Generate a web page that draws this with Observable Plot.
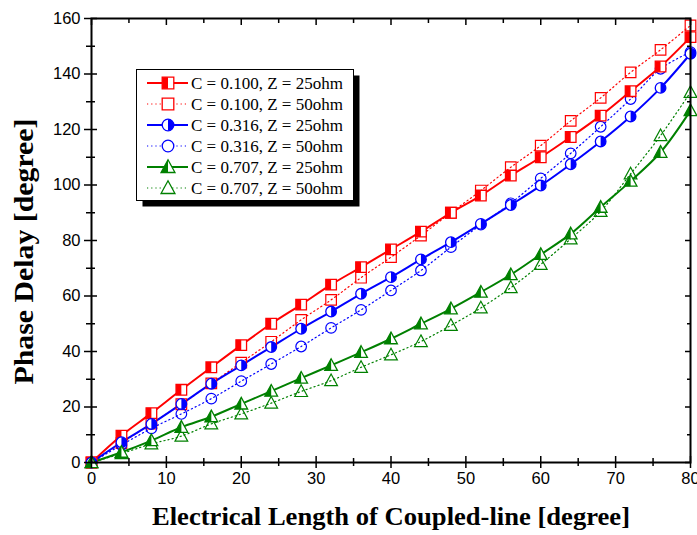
<!DOCTYPE html>
<html><head><meta charset="utf-8">
<script src="https://cdn.jsdelivr.net/npm/d3@7"></script>
<script src="https://cdn.jsdelivr.net/npm/@observablehq/plot@0.6"></script>
<style>
body{margin:0;background:#fff;}
#wrap{position:relative;width:697px;height:535px;overflow:hidden;}
#legend{position:absolute;left:136px;top:69px;}
</style></head><body><div id="wrap"></div>
<script>
// electrical length of coupled line [degree]
const lengths = [0,4,8,12,16,20,24,28,32,36,40,44,48,52,56,60,64,68,72,76,80];
// phase delay [degree]
const c100z25 = [0,9.7,17.8,26.2,34.3,42.3,50,56.9,64.1,70.4,76.8,83.2,90,96.2,103.4,110,117.3,125,133.8,142.7,153.3];
const c100z50 = [0,7,14,21,28.5,36,43.5,51.4,58.6,66.6,74,81.8,90,98,106.4,114.2,123.1,131.4,140.6,148.7,157.5];
const c316z25 = [0,7.3,13.9,21.1,28.4,35,41.6,48.2,54.4,60.8,66.8,73.2,79.4,86,92.8,99.8,107.5,115.7,124.7,135,147.3];
const c316z50 = [0,6.3,12.3,17.5,23,29.3,35.5,41.8,48.5,55,62,69.2,77.6,85.7,93.4,102.4,111.4,121,131,141.9,147.9];
const c707z25 = [0,3.7,7.9,12.7,16.5,21.1,25.7,30.4,35,39.7,44.6,50,55.4,61.4,67.7,75,82.4,92,101.4,111.8,126.8];
const c707z50 = [0,3.2,6.7,9.5,13.9,17.5,21.4,25.6,29.5,34.3,38.8,43.6,49.4,55.7,63,71.4,80.6,90.5,104,117.8,133.4];

const seriesNames = ["C = 0.100, Z = 25ohm","C = 0.100, Z = 50ohm","C = 0.316, Z = 25ohm","C = 0.316, Z = 50ohm","C = 0.707, Z = 25ohm","C = 0.707, Z = 50ohm"];
const seriesValues = [c100z25,c100z50,c316z25,c316z50,c707z25,c707z50];
const seriesColors = ["#ff0000","#ff0000","#0000ff","#0000ff","#008000","#008000"];
const seriesShapes = ["square","square","circle","circle","triangle","triangle"];
const seriesSolid = [true,false,true,false,true,false];

const xTitle = "Electrical Length of Coupled-line [degree]";
const yTitle = "Phase Delay [degree]";

const xTicks = [0,10,20,30,40,50,60,70,80];
const xMinor = [5,15,25,35,45,55,65,75];
const yTicks = [0,20,40,60,80,100,120,140,160];
const yMinor = [10,30,50,70,90,110,130,150];

// custom marker symbols
const R = s => Math.sqrt(s / Math.PI);
const symbols = {
  square: {
    full: {draw(c,s){const r=R(s); c.rect(-r,-r,2*r,2*r);}},
    half: {draw(c,s){const r=R(s); c.rect(-r,-r,r,2*r);}}
  },
  circle: {
    full: {draw(c,s){const r=R(s); c.moveTo(r,0); c.arc(0,0,r,0,2*Math.PI);}},
    half: {draw(c,s){const r=R(s); c.moveTo(0,-r); c.arc(0,0,r,-Math.PI/2,Math.PI/2); c.closePath();}}
  },
  triangle: {
    full: {draw(c,s){const r=R(s); c.moveTo(0,-1.25*r); c.lineTo(1.2*r,0.95*r); c.lineTo(-1.2*r,0.95*r); c.closePath();}},
    half: {draw(c,s){const r=R(s); c.moveTo(0,-1.25*r); c.lineTo(0,0.95*r); c.lineTo(-1.2*r,0.95*r); c.closePath();}}
  }
};

const series = seriesNames.map((name,k)=>({
  name, color: seriesColors[k], shape: seriesShapes[k], solid: seriesSolid[k],
  rows: lengths.map((x,i)=>({x, y: seriesValues[k][i]}))
}));

const marks = [];
for (const s of series.filter(s=>!s.solid)) {
  marks.push(Plot.line(s.rows,{x:"x",y:"y",stroke:s.color,strokeWidth:1.2,strokeDasharray:"1.2,3",curve:"catmull-rom"}));
}
for (const s of series.filter(s=>s.solid)) {
  marks.push(Plot.line(s.rows,{x:"x",y:"y",stroke:s.color,strokeWidth:2,curve:"catmull-rom"}));
}
for (const s of series.filter(s=>!s.solid)) {
  marks.push(Plot.dot(s.rows,{x:"x",y:"y",r:5.3,symbol:symbols[s.shape].full,fill:"white",fillOpacity:0,stroke:s.color,strokeWidth:1.2}));
}
for (const s of series.filter(s=>s.solid)) {
  marks.push(Plot.dot(s.rows,{x:"x",y:"y",r:5.3,symbol:symbols[s.shape].full,fill:"white",stroke:s.color,strokeWidth:1.3}));
  marks.push(Plot.dot(s.rows,{x:"x",y:"y",r:5.3,symbol:symbols[s.shape].half,fill:s.color,stroke:"none"}));
}

const blank = () => "";
const serif = "'Liberation Serif', 'Times New Roman', serif";
const chart = Plot.plot({
  width: 697, height: 535,
  marginLeft: 91, marginRight: 7, marginTop: 18, marginBottom: 73,
  x: {domain:[0,80]},
  y: {domain:[0,160]},
  style: {fontFamily:"'Liberation Sans', Arial, sans-serif", fontSize:"16px", color:"black", background:"white", overflow:"hidden"},
  marks: [
    ...marks,
    Plot.frame({stroke:"black", strokeWidth:2}),
    Plot.axisX(xTicks,{anchor:"bottom", tickSize:6, tickPadding:4, strokeWidth:1.5, label:null, fontSize:16.5}),
    Plot.axisX(xTicks,{anchor:"bottom", tickSize:-6, tickFormat:blank, strokeWidth:1.5, label:null}),
    Plot.axisX(xMinor,{anchor:"bottom", tickSize:4, tickFormat:blank, strokeWidth:1.5, label:null}),
    Plot.axisX(xMinor,{anchor:"bottom", tickSize:-4, tickFormat:blank, strokeWidth:1.5, label:null}),
    Plot.axisX(xTicks,{anchor:"top", tickSize:-6, tickFormat:blank, strokeWidth:1.5, label:null}),
    Plot.axisX(xMinor,{anchor:"top", tickSize:-4, tickFormat:blank, strokeWidth:1.5, label:null}),
    Plot.axisY(yTicks,{anchor:"left", tickSize:7, tickPadding:4, strokeWidth:1.5, label:null, fontSize:16.5}),
    Plot.axisY(yTicks,{anchor:"left", tickSize:-6, tickFormat:blank, strokeWidth:1.5, label:null}),
    Plot.axisY(yMinor,{anchor:"left", tickSize:5, tickFormat:blank, strokeWidth:1.5, label:null}),
    Plot.axisY(yMinor,{anchor:"left", tickSize:-4, tickFormat:blank, strokeWidth:1.5, label:null}),
    Plot.axisY(yTicks,{anchor:"right", tickSize:-6, tickFormat:blank, strokeWidth:1.5, label:null}),
    Plot.axisY(yMinor,{anchor:"right", tickSize:-4, tickFormat:blank, strokeWidth:1.5, label:null}),
    Plot.text([xTitle],{text:d=>d, frameAnchor:"bottom", textAnchor:"middle", dy:62, fontFamily:serif, fontWeight:"bold", fontSize:25, fill:"black"}),
    Plot.text([yTitle],{text:d=>d, frameAnchor:"left", textAnchor:"middle", dx:-67, dy:11, rotate:-90, fontFamily:serif, fontWeight:"bold", fontSize:27, fill:"black"})
  ]
});
document.getElementById("wrap").appendChild(chart);
// stretch the titles to the reference's lengths
d3.select(chart).selectAll("text").each(function(){
  if (this.textContent === xTitle) d3.select(this).attr("textLength",478).attr("lengthAdjust","spacingAndGlyphs");
  if (this.textContent === yTitle) d3.select(this).attr("textLength",266).attr("lengthAdjust","spacingAndGlyphs");
});

// legend
const LW = 217, LH = 131, SH = 6;
const lg = d3.select("#wrap").append("svg").attr("id","legend")
  .attr("width", LW+SH+2).attr("height", LH+SH+2);
lg.append("rect").attr("x",SH+0.5).attr("y",SH+0.5).attr("width",LW).attr("height",LH).attr("fill","black");
lg.append("rect").attr("x",0.5).attr("y",0.5).attr("width",LW).attr("height",LH).attr("fill","white").attr("stroke","black").attr("stroke-width",1);
series.forEach((s,k)=>{
  const g = lg.append("g").attr("transform",`translate(0,${14+k*21})`);
  g.append("line").attr("x1",11).attr("x2",52).attr("y1",0).attr("y2",0)
    .attr("stroke",s.color).attr("stroke-width",s.solid?2:1.2)
    .attr("stroke-dasharray",s.solid?null:"1.2,3");
  const size = 5.8*5.8*Math.PI;
  g.append("path").attr("transform","translate(32,0)")
    .attr("d", d3.symbol(symbols[s.shape].full, size)())
    .attr("fill","white").attr("stroke",s.color).attr("stroke-width",1.3);
  if (s.solid) g.append("path").attr("transform","translate(32,0)")
    .attr("d", d3.symbol(symbols[s.shape].half, size)()).attr("fill",s.color);
  g.append("text").attr("x",55).attr("y",0).attr("dy","0.35em")
    .attr("font-family",serif).attr("font-size",17)
    .attr("fill","black").text(s.name);
});
</script></body></html>
